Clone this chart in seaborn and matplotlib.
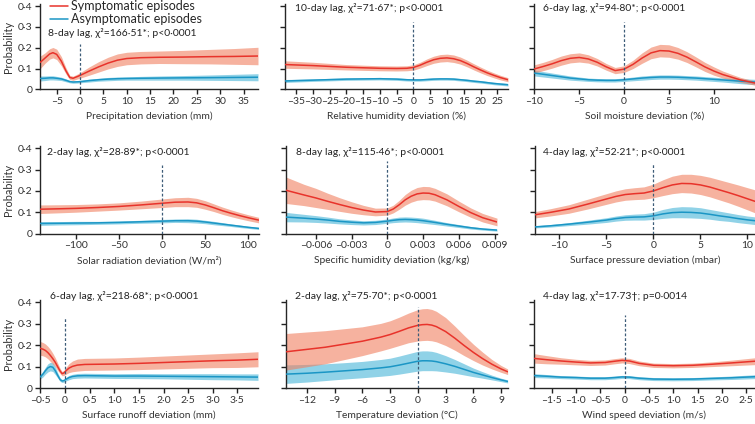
import numpy as np
import pandas as pd
import matplotlib
matplotlib.use("Agg")
import matplotlib.pyplot as plt
import seaborn as sns

# ---------------- data ----------------
precip_x = [-8.5, -7.5, -6.5, -5.8, -5, -4, -3, -2.2, -1.5, -0.5, 0.5, 2, 4, 6, 8, 10, 13, 17, 22, 28, 33, 38.1]
precip_sym = [0.130, 0.150, 0.170, 0.176, 0.168, 0.135, 0.088, 0.057, 0.053, 0.062, 0.072, 0.088, 0.108, 0.126, 0.140, 0.148, 0.152, 0.154, 0.155, 0.157, 0.158, 0.160]
precip_sym_ci = [0.03, 0.025, 0.025, 0.025, 0.025, 0.022, 0.015, 0.01, 0.01, 0.012, 0.015, 0.02, 0.025, 0.028, 0.03, 0.03, 0.03, 0.03, 0.032, 0.035, 0.038, 0.042]
precip_asym = [0.052, 0.053, 0.055, 0.055, 0.053, 0.050, 0.043, 0.037, 0.035, 0.036, 0.038, 0.042, 0.046, 0.049, 0.051, 0.052, 0.053, 0.054, 0.055, 0.056, 0.057, 0.058]
precip_asym_ci = [0.012, 0.011, 0.01, 0.01, 0.009, 0.008, 0.007, 0.006, 0.006, 0.006, 0.006, 0.007, 0.007, 0.008, 0.008, 0.008, 0.009, 0.01, 0.011, 0.013, 0.015, 0.017]

rh_x = [-38.3, -30, -20, -10, -5, -2, 0, 2, 4, 6, 8, 10, 12, 14, 16, 18, 20, 22, 24, 26, 28.2]
rh_sym = [0.119, 0.114, 0.106, 0.101, 0.100, 0.101, 0.105, 0.116, 0.130, 0.142, 0.149, 0.151, 0.147, 0.138, 0.124, 0.108, 0.093, 0.079, 0.067, 0.056, 0.046]
rh_sym_ci = [0.018, 0.016, 0.013, 0.012, 0.012, 0.012, 0.013, 0.014, 0.016, 0.017, 0.018, 0.018, 0.018, 0.017, 0.016, 0.015, 0.014, 0.013, 0.012, 0.011, 0.010]
rh_asym = [0.040, 0.044, 0.049, 0.051, 0.049, 0.046, 0.045, 0.045, 0.047, 0.049, 0.050, 0.050, 0.049, 0.046, 0.043, 0.039, 0.036, 0.032, 0.028, 0.025, 0.022]
rh_asym_ci = [0.007, 0.006, 0.006, 0.006, 0.006, 0.006, 0.006, 0.006, 0.006, 0.006, 0.006, 0.006, 0.006, 0.006, 0.006, 0.006, 0.006, 0.006, 0.006, 0.006, 0.006]

soil_x = [-10, -9, -8, -7, -6, -5, -4, -3, -2, -1, 0, 1, 2, 3, 4, 5, 6, 7, 8, 9, 10, 11, 12, 13, 14.6]
soil_sym = [0.098, 0.110, 0.123, 0.138, 0.149, 0.153, 0.146, 0.130, 0.108, 0.090, 0.097, 0.120, 0.150, 0.175, 0.186, 0.184, 0.173, 0.155, 0.132, 0.108, 0.088, 0.071, 0.058, 0.045, 0.030]
soil_sym_ci = [0.02, 0.02, 0.021, 0.022, 0.022, 0.022, 0.02, 0.018, 0.016, 0.015, 0.016, 0.02, 0.025, 0.028, 0.03, 0.03, 0.028, 0.026, 0.024, 0.022, 0.02, 0.017, 0.014, 0.012, 0.01]
soil_asym = [0.078, 0.072, 0.066, 0.060, 0.054, 0.050, 0.046, 0.044, 0.043, 0.043, 0.046, 0.050, 0.054, 0.057, 0.059, 0.059, 0.058, 0.056, 0.054, 0.051, 0.048, 0.045, 0.042, 0.039, 0.035]
soil_asym_ci = [0.014, 0.013, 0.012, 0.011, 0.01, 0.009, 0.008, 0.008, 0.008, 0.008, 0.008, 0.009, 0.01, 0.01, 0.01, 0.01, 0.01, 0.01, 0.01, 0.01, 0.01, 0.01, 0.011, 0.012, 0.013]

solar_x = [-142, -120, -100, -75, -50, -25, 0, 15, 30, 40, 50, 60, 70, 80, 90, 100, 112]
solar_sym = [0.114, 0.116, 0.118, 0.122, 0.127, 0.134, 0.142, 0.147, 0.148, 0.144, 0.134, 0.121, 0.107, 0.095, 0.084, 0.074, 0.063]
solar_sym_ci = [0.02, 0.019, 0.018, 0.017, 0.017, 0.018, 0.02, 0.021, 0.022, 0.021, 0.02, 0.018, 0.017, 0.016, 0.015, 0.014, 0.013]
solar_asym = [0.047, 0.048, 0.049, 0.050, 0.052, 0.055, 0.058, 0.060, 0.060, 0.058, 0.054, 0.049, 0.044, 0.039, 0.034, 0.029, 0.024]
solar_asym_ci = [0.009, 0.008, 0.008, 0.007, 0.007, 0.007, 0.008, 0.008, 0.009, 0.009, 0.008, 0.008, 0.007, 0.006, 0.006, 0.005, 0.005]

shum_x = [-0.0085, -0.007, -0.006, -0.005, -0.004, -0.003, -0.002, -0.001, 0, 0.0005, 0.001, 0.0015, 0.002, 0.0025, 0.003, 0.0035, 0.004, 0.005, 0.006, 0.007, 0.008, 0.0092]
shum_sym = [0.203, 0.181, 0.167, 0.151, 0.136, 0.122, 0.110, 0.101, 0.103, 0.115, 0.135, 0.158, 0.175, 0.186, 0.190, 0.189, 0.182, 0.158, 0.127, 0.098, 0.074, 0.054]
shum_sym_ci = [0.062, 0.05, 0.045, 0.038, 0.032, 0.027, 0.022, 0.018, 0.017, 0.018, 0.021, 0.025, 0.028, 0.03, 0.031, 0.031, 0.03, 0.028, 0.025, 0.022, 0.02, 0.018]
shum_asym = [0.077, 0.072, 0.068, 0.063, 0.057, 0.053, 0.050, 0.052, 0.058, 0.062, 0.065, 0.066, 0.065, 0.063, 0.060, 0.056, 0.052, 0.043, 0.035, 0.027, 0.021, 0.016]
shum_asym_ci = [0.022, 0.018, 0.016, 0.014, 0.012, 0.011, 0.01, 0.01, 0.01, 0.011, 0.012, 0.012, 0.012, 0.012, 0.012, 0.011, 0.01, 0.008, 0.007, 0.006, 0.005, 0.005]

press_x = [-12.6, -11, -9, -7, -5, -4, -3, -2, -1, 0, 1, 2, 3, 4, 5, 6, 7, 8, 9, 10, 10.8]
press_sym = [0.088, 0.099, 0.115, 0.138, 0.162, 0.174, 0.183, 0.187, 0.190, 0.200, 0.215, 0.228, 0.235, 0.234, 0.228, 0.218, 0.205, 0.192, 0.178, 0.163, 0.151]
press_sym_ci = [0.015, 0.017, 0.02, 0.023, 0.025, 0.026, 0.027, 0.028, 0.029, 0.032, 0.037, 0.041, 0.043, 0.044, 0.045, 0.046, 0.047, 0.048, 0.05, 0.052, 0.054]
press_asym = [0.031, 0.036, 0.044, 0.053, 0.063, 0.070, 0.075, 0.077, 0.078, 0.083, 0.092, 0.098, 0.100, 0.099, 0.096, 0.090, 0.083, 0.077, 0.070, 0.064, 0.060]
press_asym_ci = [0.005, 0.006, 0.007, 0.009, 0.011, 0.012, 0.013, 0.014, 0.015, 0.017, 0.021, 0.024, 0.026, 0.026, 0.025, 0.023, 0.022, 0.02, 0.019, 0.018, 0.018]

runoff_x = [-0.51, -0.45, -0.4, -0.35, -0.3, -0.25, -0.2, -0.15, -0.1, -0.06, -0.02, 0.02, 0.08, 0.15, 0.25, 0.4, 0.7, 1.0, 1.5, 2.0, 2.5, 3.0, 3.5, 3.92]
runoff_sym = [0.186, 0.182, 0.176, 0.166, 0.153, 0.138, 0.121, 0.100, 0.080, 0.068, 0.072, 0.082, 0.094, 0.102, 0.108, 0.111, 0.112, 0.113, 0.116, 0.120, 0.124, 0.128, 0.131, 0.135]
runoff_sym_ci = [0.032, 0.031, 0.03, 0.029, 0.028, 0.025, 0.021, 0.017, 0.012, 0.01, 0.012, 0.016, 0.021, 0.025, 0.028, 0.028, 0.028, 0.028, 0.029, 0.03, 0.031, 0.032, 0.034, 0.035]
runoff_asym = [0.052, 0.066, 0.082, 0.095, 0.101, 0.098, 0.082, 0.060, 0.040, 0.034, 0.036, 0.042, 0.050, 0.055, 0.058, 0.059, 0.058, 0.057, 0.057, 0.056, 0.055, 0.054, 0.053, 0.052]
runoff_asym_ci = [0.01, 0.013, 0.016, 0.019, 0.02, 0.02, 0.018, 0.012, 0.008, 0.007, 0.007, 0.008, 0.01, 0.01, 0.011, 0.011, 0.011, 0.011, 0.012, 0.012, 0.013, 0.014, 0.014, 0.015]

temp_x = [-14.2, -12, -10, -8, -6, -4, -3, -2, -1, 0, 0.5, 1, 1.5, 2, 3, 4, 5, 6, 7, 8, 9, 9.7]
temp_sym = [0.170, 0.181, 0.191, 0.205, 0.219, 0.238, 0.250, 0.265, 0.281, 0.293, 0.296, 0.297, 0.294, 0.287, 0.264, 0.233, 0.199, 0.167, 0.138, 0.112, 0.090, 0.077]
temp_sym_ci = [0.085, 0.081, 0.077, 0.072, 0.067, 0.064, 0.064, 0.066, 0.069, 0.073, 0.074, 0.074, 0.073, 0.071, 0.065, 0.056, 0.047, 0.038, 0.03, 0.022, 0.016, 0.013]
temp_asym = [0.066, 0.070, 0.075, 0.081, 0.087, 0.095, 0.100, 0.108, 0.117, 0.126, 0.128, 0.128, 0.127, 0.124, 0.114, 0.102, 0.088, 0.074, 0.062, 0.050, 0.039, 0.032]
temp_asym_ci = [0.043, 0.041, 0.039, 0.038, 0.038, 0.039, 0.04, 0.042, 0.044, 0.046, 0.046, 0.046, 0.045, 0.043, 0.038, 0.032, 0.026, 0.02, 0.015, 0.011, 0.008, 0.007]

wind_x = [-1.86, -1.6, -1.3, -1.0, -0.7, -0.4, -0.2, -0.05, 0.1, 0.3, 0.6, 1.0, 1.4, 1.8, 2.2, 2.68]
wind_sym = [0.139, 0.133, 0.127, 0.122, 0.118, 0.120, 0.126, 0.130, 0.127, 0.116, 0.107, 0.105, 0.107, 0.112, 0.118, 0.126]
wind_sym_ci = [0.022, 0.019, 0.015, 0.013, 0.012, 0.012, 0.012, 0.012, 0.012, 0.011, 0.01, 0.01, 0.01, 0.011, 0.013, 0.016]
wind_asym = [0.059, 0.056, 0.052, 0.050, 0.047, 0.047, 0.050, 0.053, 0.052, 0.047, 0.043, 0.042, 0.043, 0.046, 0.049, 0.054]
wind_asym_ci = [0.009, 0.008, 0.007, 0.007, 0.007, 0.007, 0.007, 0.007, 0.007, 0.007, 0.007, 0.007, 0.007, 0.007, 0.008, 0.009]

xlabels = ["Precipitation deviation (mm)", "Relative humidity deviation (%)", "Soil moisture deviation (%)",
           "Solar radiation deviation (W/m²)", "Specific humidity deviation (kg/kg)", "Surface pressure deviation (mbar)",
           "Surface runoff deviation (mm)", "Temperature deviation (°C)", "Wind speed deviation (m/s)"]
annotations = ["8-day lag, χ²=166·51*; p<0·0001", "10-day lag, χ²=71·67*; p<0·0001", "6-day lag, χ²=94·80*; p<0·0001",
               "2-day lag, χ²=28·89*; p<0·0001", "8-day lag, χ²=115·46*; p<0·0001", "4-day lag, χ²=52·21*; p<0·0001",
               "6-day lag, χ²=218·68*; p<0·0001", "2-day lag, χ²=75·70*; p<0·0001", "4-day lag, χ²=17·73†; p=0·0014"]
xticks = [[-5, 0, 5, 10, 15, 20, 25, 30, 35],
          [-35, -30, -25, -20, -15, -10, -5, 0, 5, 10, 15, 20, 25],
          [-10, -5, 0, 5, 10],
          [-100, -50, 0, 50, 100],
          [-0.006, -0.003, 0, 0.003, 0.006, 0.009],
          [-10, -5, 0, 5, 10],
          [-0.5, 0, 0.5, 1.0, 1.5, 2.0, 2.5, 3.0, 3.5],
          [-12, -9, -6, -3, 0, 3, 6, 9],
          [-1.5, -1.0, -0.5, 0, 0.5, 1.0, 1.5, 2.0, 2.5]]
xticklabels = [["–5", "0", "5", "10", "15", "20", "25", "30", "35"],
               ["–35", "–30", "–25", "–20", "–15", "–10", "–5", "0", "5", "10", "15", "20", "25"],
               ["–10", "–5", "0", "5", "10"],
               ["–100", "–50", "0", "50", "100"],
               ["–0·006", "–0·003", "0", "0·003", "0·006", "0·009"],
               ["–10", "–5", "0", "5", "10"],
               ["–0·5", "0", "0·5", "1·0", "1·5", "2·0", "2·5", "3·0", "3·5"],
               ["–12", "–9", "–6", "–3", "0", "3", "6", "9"],
               ["–1·5", "–1·0", "–0·5", "0", "–0·5", "1·0", "1·5", "2·0", "2·5"]]
yticks = [0, 0.1, 0.2, 0.3, 0.4]
yticklabels = ["0", "0·1", "0·2", "0·3", "0·4"]
series_names = ["Symptomatic episodes", "Asymptomatic episodes"]

# ---------------- layout (pixels) ----------------
W, H = 755, 424
sns.set_theme(style="ticks")
plt.rcParams["font.family"] = ["Lato", "DejaVu Sans"]
plt.rcParams["axes.linewidth"] = 1.0

RED, RED_FILL = "#e8332b", "#f08060"
BLUE, BLUE_FILL = "#1b96c5", "#90d2e7"
DASH = "#3d5c78"

fig = plt.figure(figsize=(W / 100, H / 100), dpi=100)

rows = [(89.3, 208.0), (233.5, 213.0), (388.3, 215.0)]
cols = [[(40, 258), (285, 508), (534, 755)],
        [(40, 259), (286, 497), (535, 755)],
        [(40, 258), (286, 508), (534, 755)]]
xlims = [(-8.57, 38.1), (-38.3, 28.2), (-10.05, 14.6),
         (-142, 112.5), (-0.0085, 0.0092), (-12.6, 10.8),
         (-0.51, 3.92), (-14.24, 9.74), (-1.86, 2.68)]
ytop = 0.41
text_y = [0.27, 0.39, 0.39, 0.383, 0.383, 0.383, 0.43, 0.43, 0.43]
text_dx = [8, 10, 9, 7, 10, 8, 10, 9, 9]
dash_top = [0.22, 0.325, 0.325, 0.32, 0.34, 0.33, 0.333, 0.38, 0.34]

panels = [
    (precip_x, precip_sym, precip_sym_ci, precip_asym, precip_asym_ci),
    (rh_x, rh_sym, rh_sym_ci, rh_asym, rh_asym_ci),
    (soil_x, soil_sym, soil_sym_ci, soil_asym, soil_asym_ci),
    (solar_x, solar_sym, solar_sym_ci, solar_asym, solar_asym_ci),
    (shum_x, shum_sym, shum_sym_ci, shum_asym, shum_asym_ci),
    (press_x, press_sym, press_sym_ci, press_asym, press_asym_ci),
    (runoff_x, runoff_sym, runoff_sym_ci, runoff_asym, runoff_asym_ci),
    (temp_x, temp_sym, temp_sym_ci, temp_asym, temp_asym_ci),
    (wind_x, wind_sym, wind_sym_ci, wind_asym, wind_asym_ci),
]

for i, (x, s, sci, a, aci) in enumerate(panels):
    r, c = divmod(i, 3)
    y0, ppu = rows[r]
    left, right = cols[r][c]
    height = ytop * ppu
    ax = fig.add_axes([left / W, 1 - y0 / H, (right - left) / W, height / H])

    df = pd.DataFrame({"x": x, "sym": s, "sci": sci, "asym": a, "aci": aci})
    ax.fill_between(df["x"], df["asym"] - df["aci"], df["asym"] + df["aci"],
                    color=BLUE_FILL, lw=0, zorder=1)
    ax.fill_between(df["x"], df["sym"] - df["sci"], df["sym"] + df["sci"],
                    color=RED_FILL, alpha=0.6, lw=0, zorder=2)
    sns.lineplot(data=df, x="x", y="asym", ax=ax, color=BLUE, lw=1.1, zorder=4,
                 label=series_names[1] if i == 0 else None, estimator=None, sort=False)
    sns.lineplot(data=df, x="x", y="sym", ax=ax, color=RED, lw=1.1, zorder=4,
                 label=series_names[0] if i == 0 else None, estimator=None, sort=False)
    ax.vlines(0, 0, dash_top[i], colors=DASH, linestyles=(0, (2.2, 1.6)), lw=0.9, zorder=5)

    ax.set_xlim(*xlims[i])
    ax.set_ylim(0, ytop)
    ax.set_xticks(xticks[i])
    ax.set_xticklabels(xticklabels[i])
    ax.set_yticks(yticks)
    if c == 0:
        ax.set_yticklabels(yticklabels)
        ax.set_ylabel("Probability", fontsize=7.8, labelpad=3)
    else:
        ax.set_yticklabels([])
        ax.set_ylabel("")
    ax.set_xlabel(xlabels[i], fontsize=7.4, labelpad=4)
    ax.tick_params(axis="both", direction="out", length=3.5, width=1.0,
                   labelsize=7.5, pad=2, colors="#222222")
    ax.tick_params(axis="both", labelcolor="#333333")
    ax.xaxis.label.set_color("#333333")
    ax.yaxis.label.set_color("#333333")
    for side in ("top", "right"):
        ax.spines[side].set_visible(False)
    ax.patch.set_alpha(0)
    ax.text((left + text_dx[i]) / W, 1 - (y0 - text_y[i] * ppu) / H, annotations[i],
            transform=fig.transFigure, fontsize=7.5, va="center", ha="left",
            color="#222222", zorder=6)

    if i == 0:
        handles, labels = ax.get_legend_handles_labels()
        order = [labels.index(series_names[0]), labels.index(series_names[1])]
        ax.legend([handles[k] for k in order], [labels[k] for k in order],
                  loc="upper left", bbox_to_anchor=(50 / W, 1 - 0.5 / H),
                  bbox_transform=fig.transFigure, frameon=False, fontsize=9,
                  handlelength=1.4, handletextpad=0.3, labelspacing=0.05,
                  borderpad=0.0, borderaxespad=0.0)

fig.savefig("out.png", dpi=100)
